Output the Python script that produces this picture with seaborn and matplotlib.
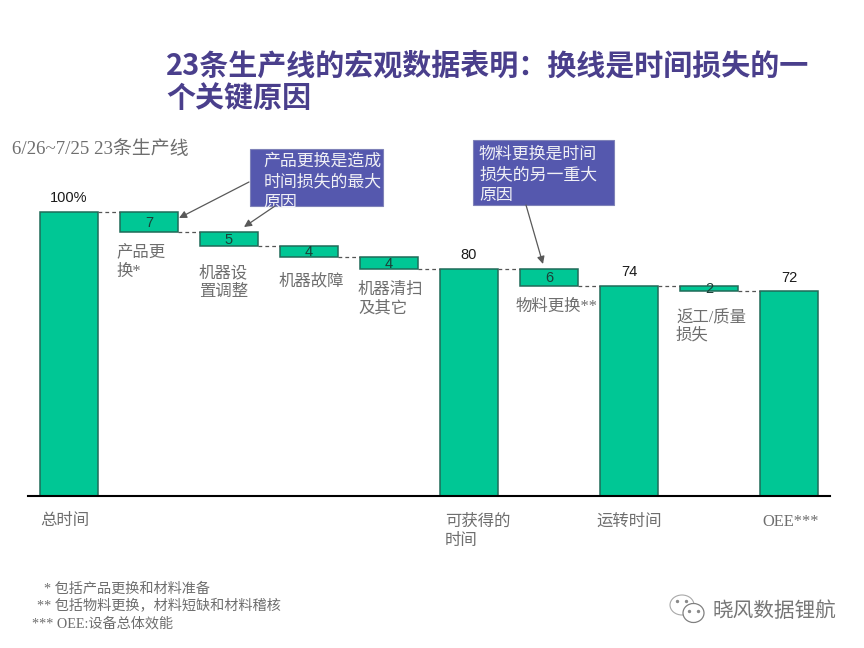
"""Waterfall of line time losses, 23 production lines."""

import matplotlib
matplotlib.use("Agg")
import matplotlib.pyplot as plt
import numpy as np
import seaborn as sns
from matplotlib.patches import Ellipse, Rectangle

categories = ["总时间", "产品更换", "机器设置调整", "机器故障", "机器清扫及其它",
              "可获得的时间", "物料更换", "运转时间", "返工/质量损失", "OEE"]
heights = [100, 7, 5, 4, 4, 80, 6, 74, 2, 72]
bottoms = [0, 93, 88, 84, 80, 0, 74, 0, 72, 0]
is_total = [True, False, False, False, False, True, False, True, False, True]
value_labels = ["100%", "7", "5", "4", "4", "80", "6", "74", "2", "72"]

title_lines = ["23条生产线的宏观数据表明：换线是时间损失的一", "个关键原因"]
subtitle = "6/26~7/25 23条生产线"
callout_a = ["产品更换是造成", "时间损失的最大", "原因"]
callout_b = ["物料更换是时间", "损失的另一重大", "原因"]
footnotes = ["* 包括产品更换和材料准备", "** 包括物料更换，材料短缺和材料稽核", "*** OEE:设备总体效能"]

# label text, left edge and centre of the first line, in reference pixels
bar_labels = [
    ("产品更\n换*", 116, 251), ("机器设\n置调整", 199, 271), ("机器故障", 279, 280),
    ("机器清扫\n及其它", 358, 288), ("物料更换**", 516, 305), ("返工/质量\n损失", 676, 315),
    ("总时间", 40, 520), ("可获得的\n时间", 445, 520), ("运转时间", 596, 520), ("OEE***", 762, 520),
]

GREEN = "#00c795"
EDGE = "#1f6b58"
PURPLE = "#5558ae"
GREY = "#6e6e6e"
SERIF = ["Liberation Serif", "Noto Sans CJK SC"]
SANS = ["Liberation Sans", "Noto Sans CJK SC"]

sns.set_theme(style="white")
plt.rcParams["font.family"] = ["Noto Sans CJK SC", "DejaVu Sans"]

fig = plt.figure(figsize=(8.64, 6.48), dpi=100, facecolor="white")
ax = fig.add_axes([28 / 864, 1 - 496 / 648, 802 / 864, 296 / 648])
sns.barplot(x=categories, y=heights, bottom=bottoms, color=GREEN, saturation=1,
            width=0.72, edgecolor=EDGE, linewidth=1.1, ax=ax)
ax.set_xlim(-0.5125, 9.5125)
ax.set_ylim(0, 104.2)
ax.set_xticks([])
ax.set_yticks([])
ax.set_xlabel("")
ax.set_ylabel("")
sns.despine(ax=ax, left=True)
ax.spines["bottom"].set_color("black")
ax.spines["bottom"].set_linewidth(1.5)

# dashed connectors between neighbouring bars
tops = np.array(heights) + np.array(bottoms)
levels = [t if total else b for t, b, total in zip(tops, bottoms, is_total)]
for i, level in enumerate(levels[:-1]):
    ax.plot([i + 0.36, i + 0.64], [level, level], color="#555555", lw=0.9, ls=(0, (3, 2.5)))

for i, text in enumerate(value_labels):
    if is_total[i]:
        ax.annotate(text, (i, tops[i]), xytext=(0, 10), textcoords="offset points",
                    ha="center", va="center", fontsize=10.5, family=SANS, color="#1a1a1a")
    else:
        ax.annotate(text, (i, bottoms[i] + heights[i] / 2), xytext=(0, -0.5), textcoords="offset points",
                    ha="center", va="center", fontsize=10.5, family=SANS, color="#1c3f37")

# everything outside the bars sits on a pixel-scaled overlay
ov = fig.add_axes([0, 0, 1, 1], facecolor="none")
ov.set_xlim(0, 864)
ov.set_ylim(648, 0)
ov.axis("off")

for line, y in zip(title_lines, [66, 98]):
    ov.text(166, y, line, fontsize=20.9, fontweight="bold", color="#4a3f8c", va="center")
ov.text(12, 149, subtitle, fontsize=13.6, color=GREY, va="center", family=SERIF)

for text, x, y in bar_labels:
    n = text.count("\n")
    ov.text(x, y + 1.5 + n * 10, text, fontsize=11.8, color=GREY, va="center", family=SERIF, linespacing=1.22)

for box, lines, pad, y0 in [((249.5, 149, 133.5, 57), callout_a, 14, 161),
                            ((473, 140, 141, 65), callout_b, 6, 154)]:
    ov.add_patch(Rectangle(box[:2], box[2], box[3], fc=PURPLE, ec="#7f82b8", lw=0.8))
    for j, line in enumerate(lines):
        ov.text(box[0] + pad, y0 + j * 20.5, line, fontsize=12.2, color="#f0f0f5", va="center")

for start, end in [((249, 182), (179, 218)), ((275, 206), (244, 227)), ((526, 205), (543, 264))]:
    ov.annotate("", xy=end, xytext=start,
                arrowprops=dict(arrowstyle="-|>", color="#595959", lw=0.9, mutation_scale=11, shrinkA=0, shrinkB=0))

for text, x, y in zip(footnotes, [44, 37, 32], [589, 606, 624]):
    ov.text(x, y, text, fontsize=10.2, color=GREY, va="center", family=SERIF)

# watermark
ov.add_patch(Ellipse((682, 605), 24, 20, fc="white", ec="#a8a8a8", lw=0.8))
ov.add_patch(Ellipse((693.5, 613), 21, 19, fc="white", ec="#808080", lw=0.9))
ov.scatter([677, 686, 689, 698], [601, 601, 611, 611], s=2, color="#8a8a8a")
ov.text(713, 611, "晓风数据锂航", fontsize=14.9, color="#777777", va="center")

fig.savefig("out.png", dpi=100, facecolor="white")
